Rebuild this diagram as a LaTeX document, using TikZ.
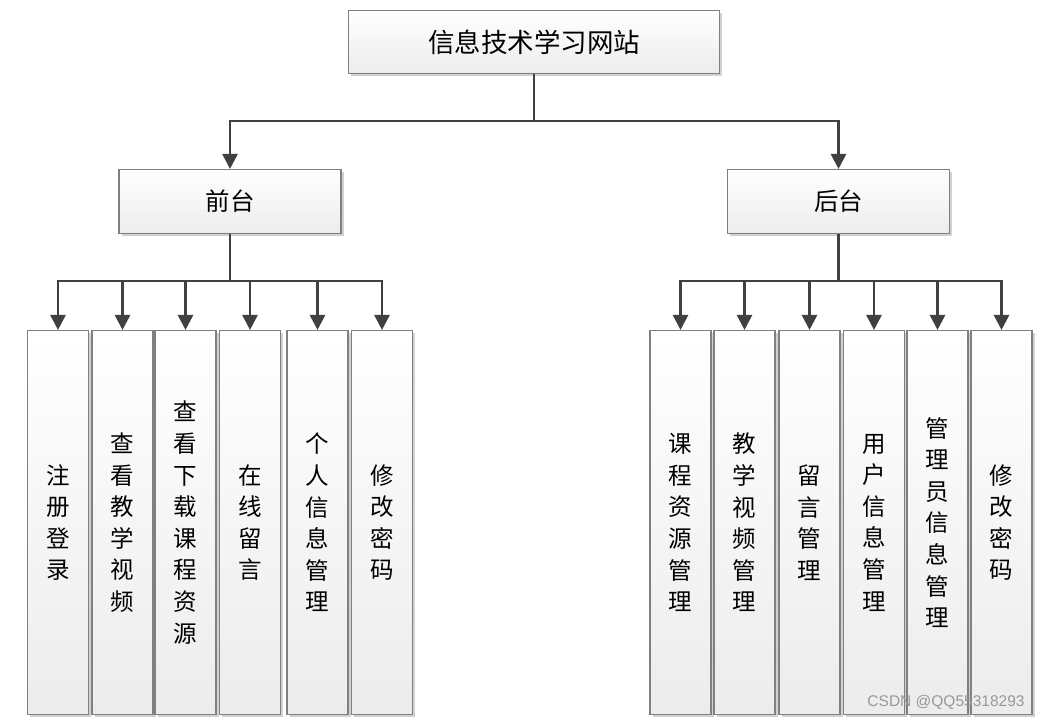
\documentclass[tikz,border=0pt]{standalone}
\usepackage{fontspec}
\newfontfamily\cjk{Noto Sans CJK SC}
\newfontfamily\wmfont{Liberation Sans}
\usetikzlibrary{arrows.meta, positioning, calc, shadows}
\definecolor{boxline}{RGB}{128,128,128}
\definecolor{connline}{RGB}{64,64,64}
\definecolor{boxbottom}{RGB}{236,236,236}

\begin{document}
\begin{tikzpicture}[
        x=1pt, y=-1pt,
        box/.style={rectangle, draw=boxline, line width=1.1pt, top color=white, bottom color=boxbottom,
            drop shadow={shadow xshift=2.5pt, shadow yshift=-2.5pt, fill=black!30, opacity=0.6},
            align=center, inner sep=0pt},
        rootbox/.style={box, minimum width=371pt, minimum height=63pt, font=\cjk\fontsize{26.5}{30}\selectfont},
        groupbox/.style={box, minimum width=222pt, minimum height=64pt, font=\cjk\fontsize{24.5}{29}\selectfont},
        leafbox/.style={box, minimum width=61pt, minimum height=384pt, font=\cjk\fontsize{23.5}{31.6}\selectfont},
        line/.style={connline, line width=2.7pt},
        conn/.style={line, -{Triangle[width=15pt,length=15pt]}}
    ]
        \useasboundingbox (0,0) rectangle (1041,720);

        % root and the two parts
        \node[rootbox] (site) at (534,42) {信息技术学习网站};
        \node[groupbox] (front) at (230,201.5) {前台};
        \node[groupbox] (back) at (838.5,201.5) {后台};

        % front leaves
        \node[leafbox] (f1) at (58,522.5) {注\\册\\登\\录};
        \node[leafbox] (f2) at (122.5,522.5) {查\\看\\教\\学\\视\\频};
        \node[leafbox] (f3) at (185.5,522.5) {查\\看\\下\\载\\课\\程\\资\\源};
        \node[leafbox] (f4) at (250,522.5) {在\\线\\留\\言};
        \node[leafbox] (f5) at (317.5,522.5) {个\\人\\信\\息\\管\\理};
        \node[leafbox] (f6) at (382,522.5) {修\\改\\密\\码};

        % back leaves
        \node[leafbox] (b1) at (680.5,522.5) {课\\程\\资\\源\\管\\理};
        \node[leafbox] (b2) at (744.5,522.5) {教\\学\\视\\频\\管\\理};
        \node[leafbox] (b3) at (809.5,522.5) {留\\言\\管\\理};
        \node[leafbox] (b4) at (874,522.5) {用\\户\\信\\息\\管\\理};
        \node[leafbox] (b5) at (937.5,522.5) {管\\理\\员\\信\\息\\管\\理};
        \node[leafbox] (b6) at (1001.5,522.5) {修\\改\\密\\码};

        % connectors
        \coordinate (sitebus) at (534,121);
        \draw[line] (site.south) -- (sitebus);
        \draw[conn] (sitebus) -| (front.north);
        \draw[conn] (sitebus) -| (back.north);

        \coordinate (frontbus) at (230,281);
        \draw[line] (front.south) -- (frontbus);
        \draw[conn] (frontbus) -| (f1.north);
        \draw[conn] (frontbus) -| (f2.north);
        \draw[conn] (frontbus) -| (f3.north);
        \draw[conn] (frontbus) -| (f4.north);
        \draw[conn] (frontbus) -| (f5.north);
        \draw[conn] (frontbus) -| (f6.north);

        \coordinate (backbus) at (838.5,281);
        \draw[line] (back.south) -- (backbus);
        \draw[conn] (backbus) -| (b1.north);
        \draw[conn] (backbus) -| (b2.north);
        \draw[conn] (backbus) -| (b3.north);
        \draw[conn] (backbus) -| (b4.north);
        \draw[conn] (backbus) -| (b5.north);
        \draw[conn] (backbus) -| (b6.north);

        \node[font=\wmfont\fontsize{15.5}{18}\selectfont, text=black!40] (mark) at (946,702) {CSDN @QQ55318293};
    \end{tikzpicture}
\end{document}
